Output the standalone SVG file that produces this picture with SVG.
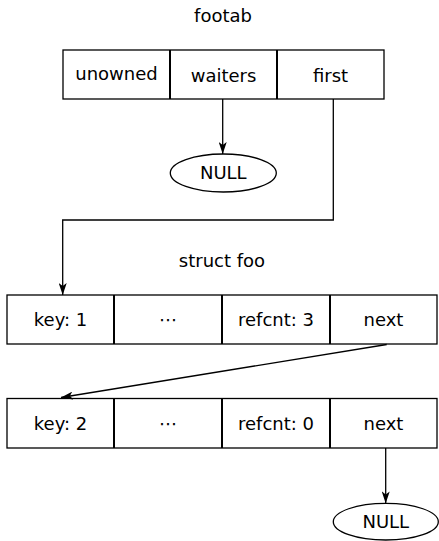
<svg xmlns="http://www.w3.org/2000/svg" width="439" height="541" viewBox="0 0 439 541">
<defs>
<style>
text{font-family:"DejaVu Sans",sans-serif;font-size:18px;fill:#000;text-anchor:middle}
.box{fill:#fff;stroke:#000;stroke-width:1.3}
.div{stroke:#000;stroke-width:2}
.edge{fill:none;stroke:#000;stroke-width:1.3}
</style>
<marker id="ah" viewBox="0 0 12 8" refX="12" refY="4" markerWidth="12" markerHeight="8" markerUnits="userSpaceOnUse" orient="auto">
<path d="M0,0 L12,4 L0,8 L3,4 z" fill="#000"/>
</marker>
</defs>
<rect width="439" height="541" fill="#fff"/>
<g id="footab">
<text x="223" y="22">footab</text>
<rect class="box" x="63" y="50" width="321" height="49"/>
<line class="div" x1="170" y1="50" x2="170" y2="99"/>
<line class="div" x1="277" y1="50" x2="277" y2="99"/>
<text x="116.5" y="80">unowned</text>
<text x="223.5" y="82">waiters</text>
<text x="330.5" y="82">first</text>
</g>
<g id="null1">
<ellipse class="box" cx="223.3" cy="173" rx="53" ry="19"/>
<text x="223.3" y="178.5">NULL</text>
</g>
<g id="foo1">
<text x="222" y="267">struct foo</text>
<rect class="box" x="7" y="295" width="430" height="49"/>
<line class="div" x1="114" y1="295" x2="114" y2="344"/>
<line class="div" x1="222" y1="295" x2="222" y2="344"/>
<line class="div" x1="330" y1="295" x2="330" y2="344"/>
<text x="60.5" y="326">key: 1</text>
<text x="168" y="326">⋯</text>
<text x="276" y="326">refcnt: 3</text>
<text x="383.5" y="326">next</text>
</g>
<g id="foo2">
<rect class="box" x="7" y="398.5" width="430" height="49.5"/>
<line class="div" x1="114" y1="398.5" x2="114" y2="448"/>
<line class="div" x1="222" y1="398.5" x2="222" y2="448"/>
<line class="div" x1="330" y1="398.5" x2="330" y2="448"/>
<text x="60.5" y="430">key: 2</text>
<text x="168" y="430">⋯</text>
<text x="276" y="430">refcnt: 0</text>
<text x="383.5" y="430">next</text>
</g>
<g id="null2">
<ellipse class="box" cx="385.8" cy="521.7" rx="52.5" ry="18.3"/>
<text x="385.8" y="527.5">NULL</text>
</g>
<g id="connectors">
<line class="edge" x1="222.7" y1="99" x2="222.7" y2="154" marker-end="url(#ah)"/>
<polyline class="edge" points="333.3,99 333.3,220 62.7,220 62.7,295" marker-end="url(#ah)"/>
<line class="edge" x1="386.7" y1="344.5" x2="61" y2="397.5" marker-end="url(#ah)"/>
<line class="edge" x1="385.7" y1="448" x2="385.7" y2="503.4" marker-end="url(#ah)"/>
</g>
</svg>
